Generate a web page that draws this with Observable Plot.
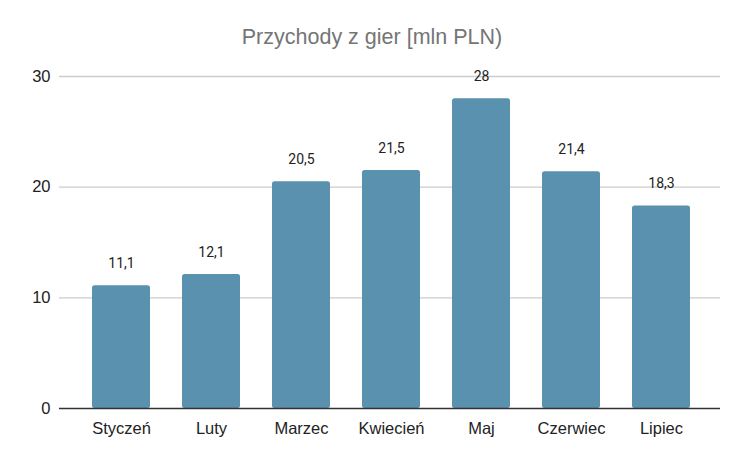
<!DOCTYPE html>
<html>
<head>
<meta charset="utf-8">
<script src="https://cdn.jsdelivr.net/npm/d3@7"></script>
<script src="https://cdn.jsdelivr.net/npm/@observablehq/plot@0.6"></script>
<style>
  body { margin: 0; background: #fff; }
  #title { height: 56px; box-sizing: border-box; padding-top: 24px; text-align: center;
    font-family: "Liberation Sans", Arial, sans-serif; font-size: 21.5px; color: #757575; line-height: 26px; }
  svg { display: block; }
</style>
</head>
<body>
<div id="title">Przychody z gier [mln PLN)</div>
<div id="chart"></div>
<script>
const months = ["Styczeń", "Luty", "Marzec", "Kwiecień", "Maj", "Czerwiec", "Lipiec"];
const revenue = [11.1, 12.1, 20.5, 21.5, 28, 21.4, 18.3];
const yTicks = [0, 10, 20, 30];

const data = months.map((m, i) => ({month: m, value: revenue[i]}));
const fmt = v => String(v).replace(".", ",");

const chart = Plot.plot({
  width: 744,
  height: 404,
  marginLeft: 59,
  marginRight: 24,
  marginTop: 20,
  marginBottom: 52,
  style: {fontFamily: "'Liberation Sans', Arial, sans-serif", fontSize: "16.5px", color: "#222", background: "#fff"},
  x: {domain: months, padding: 0.356, paddingOuter: 0.35, align: 0.524, label: null, tickSize: 0, tickPadding: 14},
  y: {domain: [0, 30], ticks: yTicks, label: null, tickSize: 0, tickPadding: 9, tickFormat: d => d},
  marks: [
    Plot.gridY(yTicks.filter(t => t > 0), {stroke: "#cccccc", strokeOpacity: 1, strokeWidth: 1.3}),
    Plot.barY(data, {x: "month", y: "value", fill: "#5a91ae", rx: 2.5}),
    Plot.ruleY([0], {stroke: "#333", strokeWidth: 1.3}),
    Plot.text(data, {x: "month", y: "value", text: d => fmt(d.value), dy: -22, lineAnchor: "middle",
      fontFamily: "Roboto, sans-serif", fontSize: 14, fill: "#222"})
  ]
});
document.getElementById("chart").appendChild(chart);
</script>
</body>
</html>
